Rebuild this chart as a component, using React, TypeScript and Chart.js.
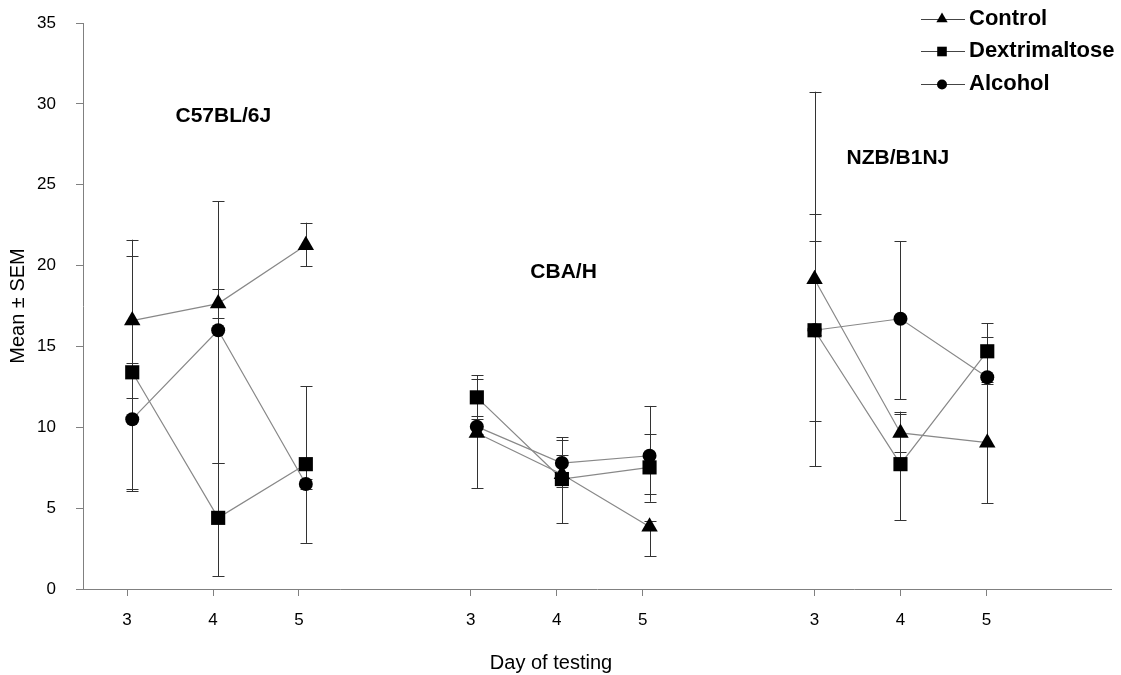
import React, { useEffect, useRef } from "react";
import { Chart, registerables } from "chart.js";

Chart.register(...registerables);

// ---- data ----
const groupLabels = ["C57BL/6J", "CBA/H", "NZB/B1NJ"];
const dayLabels = ["3", "4", "5"];
const seriesNames = ["Control", "Dextrimaltose", "Alcohol"];
const xTitle = "Day of testing";
const yTitle = "Mean ± SEM";

// group label anchor (data units: x position, y value)
const groupLabelX = [1.12, 5.08, 8.97];
const groupLabelY = [29.25, 19.6, 26.65];

// tick positions (day 3,4,5 per group) and where the points sit on them
const tickX = [0, 1, 2, 4, 5, 6, 8, 9, 10];
const pointX = [0.06, 1.06, 2.08, 4.07, 5.06, 6.08, 8.0, 9.0, 10.01];

// values per group: C57BL/6J (3,4,5), CBA/H (3,4,5), NZB/B1NJ (3,4,5)
const controlMean = [16.6, 17.65, 21.25, 9.65, 7.1, 3.85, 19.15, 9.65, 9.05];
const controlHigh = [21.6, 18.55, 22.65, 12.99, 8.3, 4.2, 30.75, 10.97, 12.7];
const controlLow = [11.8, 16.75, 19.97, 6.24, 6.9, 2.04, 7.58, 8.45, 5.29];

const dextriMean = [13.4, 4.4, 7.72, 11.85, 6.8, 7.52, 16.0, 7.72, 14.7];
const dextriHigh = [20.6, 7.79, 12.53, 13.22, 9.38, 9.58, 21.52, 10.82, 16.44];
const dextriLow = [6.2, 0.8, 2.85, 10.72, 4.07, 5.87, 10.41, 4.25, 13.0];

const alcoholMean = [10.5, 16.0, 6.49, 10.04, 7.79, 8.24, 16.0, 16.71, 13.09];
const alcoholHigh = [13.96, 23.98, 6.8, 10.5, 9.21, 11.32, 23.2, 21.52, 15.57];
const alcoholLow = [6.03, 7.79, 6.2, 9.6, 6.28, 5.39, 15.7, 11.75, 12.8];

const yMin = 0;
const yMax = 35;
const yStep = 5;

// ---- helpers ----
const FONT = "'Liberation Sans', Arial, Helvetica, sans-serif";

function buildPoints(values: number[]) {
  const pts: { x: number; y: number | null }[] = [];
  groupLabels.forEach((_, g) => {
    dayLabels.forEach((_, d) => {
      const i = g * dayLabels.length + d;
      pts.push({ x: pointX[i], y: values[i] });
    });
    if (g < groupLabels.length - 1) pts.push({ x: g * 4 + 3, y: null });
  });
  return pts;
}

const seriesMeans = [controlMean, dextriMean, alcoholMean];
const seriesHigh = [controlHigh, dextriHigh, alcoholHigh];
const seriesLow = [controlLow, dextriLow, alcoholLow];
const seriesStyles = ["triangle", "rect", "circle"];
const seriesRadius = [9.5, 10, 7];

const errorBarPlugin = {
  id: "errorBars",
  beforeDatasetsDraw(chart: any) {
    const { ctx, scales } = chart;
    const xs = scales.x;
    const ys = scales.y;
    ctx.save();
    ctx.strokeStyle = "#333";
    ctx.lineWidth = 1;
    seriesMeans.forEach((_, s) => {
      pointX.forEach((xv, i) => {
        const px = Math.round(xs.getPixelForValue(xv)) + 0.5;
        const top = ys.getPixelForValue(seriesHigh[s][i]);
        const bot = ys.getPixelForValue(seriesLow[s][i]);
        ctx.beginPath();
        ctx.moveTo(px, top);
        ctx.lineTo(px, bot);
        ctx.moveTo(px - 6, Math.round(top) + 0.5);
        ctx.lineTo(px + 6, Math.round(top) + 0.5);
        ctx.moveTo(px - 6, Math.round(bot) + 0.5);
        ctx.lineTo(px + 6, Math.round(bot) + 0.5);
        ctx.stroke();
      });
    });
    ctx.restore();
  },
};

const annotationPlugin = {
  id: "groupLabels",
  afterDatasetsDraw(chart: any) {
    const { ctx, scales } = chart;
    ctx.save();
    ctx.fillStyle = "#000";
    ctx.font = `bold 21px ${FONT}`;
    ctx.textAlign = "center";
    ctx.textBaseline = "middle";
    groupLabels.forEach((t, i) => {
      ctx.fillText(t, scales.x.getPixelForValue(groupLabelX[i]), scales.y.getPixelForValue(groupLabelY[i]));
    });
    // x axis title (sits left of the axis centre in the original)
    ctx.font = `20px ${FONT}`;
    ctx.fillText(xTitle, 551, 663);
    ctx.restore();
  },
};

const legendPlugin = {
  id: "customLegend",
  afterDraw(chart: any) {
    const { ctx } = chart;
    ctx.save();
    const x0 = 921;
    const x1 = 965;
    const mx = 942;
    const ys = [19, 51, 84];
    chart.data.datasets.forEach((ds: any, i: number) => {
      const y = ys[i];
      ctx.strokeStyle = "#444";
      ctx.lineWidth = 1.2;
      ctx.beginPath();
      ctx.moveTo(x0, y + 0.5);
      ctx.lineTo(x1, y + 0.5);
      ctx.stroke();
      ctx.fillStyle = "#000";
      ctx.beginPath();
      if (ds.pointStyle === "triangle") {
        const r = 6.5;
        ctx.moveTo(mx, y - r);
        ctx.lineTo(mx + r * 0.866, y + r / 2);
        ctx.lineTo(mx - r * 0.866, y + r / 2);
        ctx.closePath();
      } else if (ds.pointStyle === "rect") {
        ctx.rect(mx - 4.8, y - 4.3, 9.6, 9.6);
      } else {
        ctx.arc(mx, y + 0.5, 5, 0, Math.PI * 2);
      }
      ctx.fill();
      ctx.font = `bold 22px ${FONT}`;
      ctx.textAlign = "left";
      ctx.textBaseline = "middle";
      ctx.fillText(ds.label, 969, y);
    });
    ctx.restore();
  },
};

export default function App() {
  const canvasRef = useRef<HTMLCanvasElement | null>(null);

  useEffect(() => {
    document.body.style.margin = "0";
    const canvas = canvasRef.current;
    if (!canvas) return;
    const chart = new Chart(canvas, {
      type: "line",
      data: {
        datasets: seriesNames.map((name, s) => ({
          label: name,
          data: buildPoints(seriesMeans[s]),
          borderColor: "#888",
          borderWidth: 1.2,
          pointStyle: seriesStyles[s],
          pointRadius: seriesRadius[s],
          pointBackgroundColor: "#000",
          pointBorderColor: "#000",
          pointBorderWidth: 0,
          spanGaps: false,
          tension: 0,
          fill: false,
        })),
      },
      options: {
        animation: false,
        responsive: false,
        devicePixelRatio: 1,
        layout: { padding: { top: 23, right: 0, left: 0, bottom: 0 } },
        plugins: {
          legend: { display: false },
          tooltip: { enabled: false },
        },
        scales: {
          x: {
            type: "linear",
            min: -0.513,
            max: 11.45,
            afterBuildTicks: (scale: any) => {
              scale.ticks = tickX.map((v) => ({ value: v }));
            },
            afterFit: (scale: any) => {
              scale.height = 86;
              scale.paddingLeft = 0;
              scale.paddingRight = 0;
            },
            ticks: {
              autoSkip: false,
              maxRotation: 0,
              padding: 14,
              color: "#000",
              font: { family: FONT, size: 17 },
              callback: (value: any) => dayLabels[Math.round(Number(value)) % 4] ?? "",
            },
            grid: { drawOnChartArea: false, drawTicks: true, tickLength: 7, color: "#808080" },
            border: { color: "#808080", width: 1 },
            title: { display: false },
          },
          y: {
            min: yMin,
            max: yMax,
            afterFit: (scale: any) => {
              scale.width = 83;
              scale.paddingTop = 0;
              scale.paddingBottom = 0;
            },
            ticks: {
              stepSize: yStep,
              padding: 20,
              color: "#000",
              font: { family: FONT, size: 17 },
            },
            grid: { drawOnChartArea: false, drawTicks: true, tickLength: 7, color: "#808080" },
            border: { color: "#808080", width: 1 },
            title: {
              display: true,
              text: yTitle,
              color: "#000",
              font: { family: FONT, size: 20 },
              padding: { top: 6, bottom: 0 },
            },
          },
        },
      } as any,
      plugins: [errorBarPlugin, annotationPlugin, legendPlugin],
    });
    return () => chart.destroy();
  }, []);

  return (
    <div style={{ width: 1121, height: 675 }}>
      <canvas ref={canvasRef} width={1121} height={675} style={{ display: "block" }} />
    </div>
  );
}
